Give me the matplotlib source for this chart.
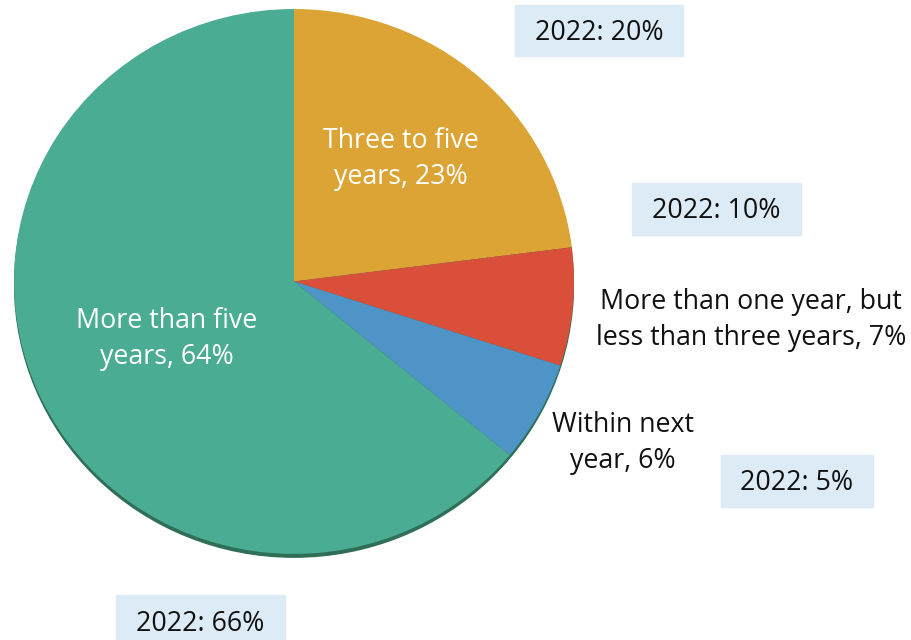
import matplotlib
matplotlib.use("Agg")
import matplotlib.pyplot as plt
from matplotlib.patches import Rectangle, Ellipse

plt.rcParams["font.family"] = ["Open Sans", "DejaVu Sans"]

# Share of respondents by expected timeframe (2023) and the 2022 comparison
categories = ["Three to five years", "More than one year, but less than three years",
              "Within next year", "More than five years"]
values_2023 = [23, 7, 6, 64]
values_2022 = [20, 10, 5, 66]
colors = ["#DCA434", "#D94F39", "#4F94C6", "#4BAC94"]

W, H = 912, 640
fig = plt.figure(figsize=(W / 100, H / 100), dpi=100)

# Pie axes: slightly squashed vertically for a tilted look
px0, px1, py0, py1 = 14, 574, 9, 558
pie_ax = fig.add_axes([px0 / W, 1 - py1 / H, (px1 - px0) / W, (py1 - py0) / H])
pie_ax.axis("off")
pie_ax.add_patch(Ellipse((0, -0.012), 1.996, 2.0, color="#2F6E57", zorder=0))
pie_ax.pie(values_2023, colors=colors, startangle=90, counterclock=False,
           radius=1, wedgeprops=dict(linewidth=0, zorder=1))
pie_ax.set_xlim(-1, 1)
pie_ax.set_ylim(-1.015, 1)
pie_ax.set_aspect("auto")

# Overlay in pixel coordinates for labels and boxes
ov = fig.add_axes([0, 0, 1, 1])
ov.set_xlim(0, W)
ov.set_ylim(H, 0)
ov.axis("off")
ov.patch.set_alpha(0)

fs = 19.3
label_text = [
    f"Three to five\nyears, {values_2023[0]}%",
    f"More than one year, but\nless than three years, {values_2023[1]}%",
    f"Within next\nyear, {values_2023[2]}%",
    f"More than five\nyears, {values_2023[3]}%",
]
label_pos = [(401, 159), (751, 320), (623, 443), (167, 339)]
label_col = ["white", "#111111", "#111111", "white"]
for t, (x, y), c in zip(label_text, label_pos, label_col):
    ov.text(x, y, t, ha="center", va="center", color=c, fontsize=fs,
            linespacing=1.34)

# 2022 comparison boxes
box_rects = [(515, 5, 168, 51), (632, 183, 169, 52), (721, 455, 152, 52), (116, 595, 169, 52)]
for v, (x, y, w, h) in zip(values_2022, box_rects):
    ov.add_patch(Rectangle((x, y), w, h, color="#DCEBF6", zorder=2))
    ty = (y + h / 2 if y + h <= H else 622) + 2
    ov.text(x + w / 2, ty, f"2022: {v}%", ha="center", va="center",
            color="#111111", fontsize=fs, zorder=3)

fig.savefig("out.png", dpi=100)
